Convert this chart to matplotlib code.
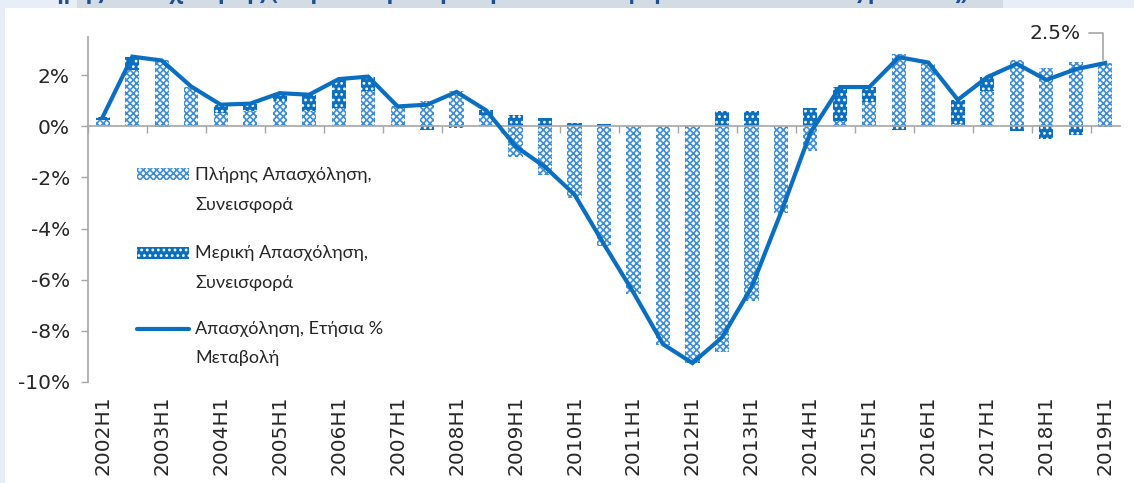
import numpy as np
import matplotlib
matplotlib.use("Agg")
import matplotlib.pyplot as plt
from matplotlib.patches import Rectangle
from matplotlib.lines import Line2D

# περίοδοι (εξάμηνα)
periodoi = [f"{y}H{h}" for y in range(2002, 2020) for h in (1, 2)][:35]

# συνεισφορά πλήρους απασχόλησης (π.μ.)
pliris = [0.25, 2.2, 2.6, 1.55, 0.52, 0.6, 1.0, 0.6, 0.72, 1.37,
          0.8, 0.98, 1.37, 0.45, -1.2, -1.89, -2.8, -4.69, -6.55, -8.55,
          -9.24, -8.85, -6.84, -3.4, -0.98, 0.2, 0.95, 2.85, 2.5, 0.08,
          1.37, 2.6, 2.28, 2.54, 2.5]

# συνεισφορά μερικής απασχόλησης (π.μ.)
meriki = [0.13, 0.52, -0.03, 0.0, 0.33, 0.28, 0.3, 0.62, 1.1, 0.58,
          0.0, -0.13, -0.05, 0.2, 0.46, 0.33, 0.12, 0.08, 0.03, 0.02,
          -0.03, 0.59, 0.59, 0.0, 0.72, 1.35, 0.6, -0.13, 0.0, 0.95,
          0.56, -0.2, -0.49, -0.32, -0.03]

# ετήσια % μεταβολή απασχόλησης
apasxolisi = [0.37, 2.73, 2.58, 1.56, 0.85, 0.89, 1.30, 1.24, 1.85, 1.95,
              0.78, 0.85, 1.35, 0.63, -0.78, -1.59, -2.67, -4.62, -6.51, -8.53,
              -9.27, -8.27, -6.31, -3.38, -0.25, 1.54, 1.54, 2.71, 2.50, 1.04,
              1.93, 2.45, 1.82, 2.24, 2.48]

y_ticks = [-10, -8, -6, -4, -2, 0, 2]

MPLE = "#0a6fc0"
ANOIXTO = "#3f8ed8"
GKRI = "#a6a6a6"

plt.rcParams['hatch.linewidth'] = 1.2

W, H = 1134, 483
fig = plt.figure(figsize=(W / 100, H / 100), dpi=100)
fig.patch.set_facecolor("#e8eef8")

# λευκό πλαίσιο και ταινία τίτλου (κομμένη στο πάνω μέρος)
fig.add_artist(Rectangle((5 / W, 0), 1, 1 - 8 / H, transform=fig.transFigure,
                         facecolor="white", edgecolor="none", zorder=0))
fig.add_artist(Rectangle((77 / W, 1 - 8 / H), (1003 - 77) / W, 8 / H,
                         transform=fig.transFigure, facecolor="#d3dbe4",
                         edgecolor="none", zorder=0))
fig.text(968 / W, 1 + 7 / H,
         "Μερική και Πλήρης Απασχόλησης (ετήσια % μεταβολή και συνεισφορά σε ποσοστιαίες μονάδες)",
         ha="right", va="center", fontsize=16, color="#1d4f91", fontweight="bold",
         family="Open Sans")

ax = fig.add_axes([88 / W, 1 - 381.7 / H, (1120 - 88) / W, (381.7 - 37) / H])
ax.set_facecolor("none")

x = np.arange(len(periodoi))
pl = np.array(pliris)
me = np.array(meriki)
bottom_me = np.where(np.sign(me) == np.sign(pl), pl, 0.0)

ax.bar(x, pl, width=0.48, facecolor="white", edgecolor=ANOIXTO,
       hatch="xxxxx", linewidth=0, zorder=2)
ax.bar(x, me, width=0.48, bottom=bottom_me, facecolor=MPLE, edgecolor="white",
       hatch="...", linewidth=0, zorder=2)
ax.plot(x, apasxolisi, color=MPLE, linewidth=3, zorder=4, solid_joinstyle="miter")

ax.set_xlim(-0.5, len(periodoi) - 0.5)
ax.set_ylim(-10, 3.5)

# άξονας y
ax.set_yticks(y_ticks)
ax.set_yticklabels([f"{v}%" for v in y_ticks], fontsize=14.5, color="#262626")
ax.tick_params(axis="y", length=5, width=1, color=GKRI, pad=8)
for s in ("top", "right"):
    ax.spines[s].set_visible(False)
ax.spines["left"].set_color(GKRI)
ax.spines["left"].set_linewidth(1.2)

# οριζόντια γραμμή στο μηδέν με υποδιαιρέσεις ανά έτος
ax.spines["bottom"].set_position(("data", 0))
ax.spines["bottom"].set_color(GKRI)
ax.spines["bottom"].set_linewidth(1.2)
ax.spines["bottom"].set_zorder(3)
ax.set_xticks(np.arange(-0.5, len(periodoi) - 0.5, 2))
ax.set_xticklabels([])
ax.tick_params(axis="x", length=5, width=1, color=GKRI, direction="out")

# ετικέτες περιόδων στο κάτω μέρος
sec = ax.secondary_xaxis("bottom")
sec.set_xticks(x[::2])
sec.set_xticklabels(periodoi[::2], rotation=90, fontsize=14.5, color="#262626")
sec.tick_params(length=0, pad=10)
sec.spines["bottom"].set_visible(False)

# σημείωση τελευταίας τιμής
ax.annotate(f"{apasxolisi[-1]:.1f}%", xy=(x[-1] - 0.08, apasxolisi[-1] + 0.1),
            xytext=(-16, 19.5), textcoords="offset points", ha="right", va="center",
            fontsize=14.5, color="#262626", annotation_clip=False,
            arrowprops=dict(arrowstyle="-", color=GKRI, lw=1.2,
                            shrinkA=4, shrinkB=0,
                            connectionstyle="angle,angleA=0,angleB=90,rad=0"))

# υπόμνημα
def fx(px):
    return px / W

def fy(py):
    return 1 - py / H

fig.add_artist(Rectangle((fx(137), fy(180)), fx(52), 12 / H, transform=fig.transFigure,
                         facecolor="white", edgecolor=ANOIXTO, hatch="xxxxx",
                         linewidth=0, zorder=5))
fig.add_artist(Rectangle((fx(137), fy(259)), fx(52), 12 / H, transform=fig.transFigure,
                         facecolor=MPLE, edgecolor="white", hatch="...",
                         linewidth=0, zorder=5))
fig.add_artist(Line2D([fx(137), fx(189)], [fy(329), fy(329)], transform=fig.transFigure,
                      color=MPLE, linewidth=3, zorder=5, solid_capstyle="round"))

leg_labels = [("Πλήρης Απασχόληση,", 175), ("Συνεισφορά", 205),
              ("Μερική Απασχόληση,", 253), ("Συνεισφορά", 283),
              ("Απασχόληση, Ετήσια %", 329), ("Μεταβολή", 358)]
for txt, py in leg_labels:
    fig.text(fx(195), fy(py), txt, ha="left", va="center", fontsize=13,
             color="#262626", family="Lato", zorder=5)

fig.savefig("out.png", dpi=100, facecolor=fig.get_facecolor())
